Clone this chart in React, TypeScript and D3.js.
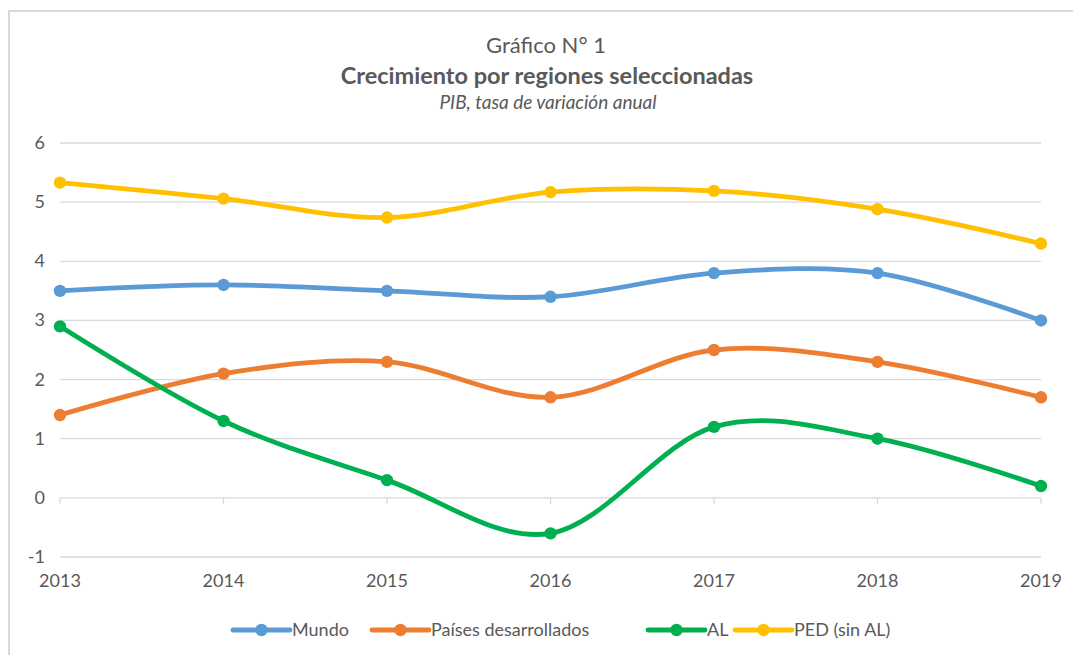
import React from "react";
import * as d3 from "d3";

const years = ["2013", "2014", "2015", "2016", "2017", "2018", "2019"];
const mundo = [3.5, 3.6, 3.5, 3.4, 3.8, 3.8, 3.0];
const paises = [1.4, 2.1, 2.3, 1.7, 2.5, 2.3, 1.7];
const al = [2.9, 1.3, 0.3, -0.6, 1.2, 1.0, 0.2];
const ped = [5.33, 5.06, 4.74, 5.17, 5.19, 4.88, 4.3];
const yTicks = [-1, 0, 1, 2, 3, 4, 5, 6];

const seriesNames = ["Mundo", "Países desarrollados", "AL", "PED (sin AL)"];
const seriesColors = ["#5B9BD5", "#ED7D31", "#00B050", "#FFC000"];
const seriesValues = [mundo, paises, al, ped];

const W = 1073;
const H = 655;
const FONT = "Lato, 'Open Sans', sans-serif";

export default function App() {
  const x = d3.scalePoint<string>().domain(years).range([60, 1041]);
  const y = d3.scaleLinear().domain([-1, 6]).range([557, 143]);
  const line = d3
    .line<number>()
    .x((_, i) => x(years[i]) as number)
    .y((d) => y(d))
    .curve(d3.curveCatmullRom.alpha(0));

  const legendX = [233, 372, 648, 735];
  const legendY = 630;

  return (
    <svg
      width={W}
      height={H}
      style={{ position: "absolute", left: 0, top: 0, background: "#fff" }}
      fontFamily={FONT}
    >
      <rect x={0} y={0} width={W} height={H} fill="#fff" />
      {/* partial border */}
      <line x1={9} x2={W} y1={11} y2={11} stroke="#d9d9d9" strokeWidth={2} />
      <line x1={9} x2={9} y1={10} y2={H} stroke="#d9d9d9" strokeWidth={2} />

      {/* titles */}
      <text x={546} y={53} textAnchor="middle" fontSize={22} fill="#595959">
        Gráfico N° 1
      </text>
      <text x={547} y={84} textAnchor="middle" fontSize={23.5} fontWeight="bold" fill="#595959">
        Crecimiento por regiones seleccionadas
      </text>
      <text x={548} y={109} textAnchor="middle" fontSize={19} fontStyle="italic" fill="#595959">
        PIB, tasa de variación anual
      </text>

      {/* gridlines */}
      {yTicks.map((t) => (
        <g key={t}>
          <line x1={60} x2={1041} y1={y(t)} y2={y(t)} stroke="#d9d9d9" strokeWidth={1.3} />
          <text x={45} y={y(t) + 6} textAnchor="end" fontSize={18} fill="#595959">
            {t}
          </text>
        </g>
      ))}
      {/* category ticks at zero axis */}
      {years.map((yr) => (
        <g key={yr}>
          <line
            x1={x(yr)}
            x2={x(yr)}
            y1={y(0)}
            y2={y(0) + 6}
            stroke="#d9d9d9"
            strokeWidth={1.3}
          />
          <text x={x(yr)} y={587} textAnchor="middle" fontSize={18} fill="#595959">
            {yr}
          </text>
        </g>
      ))}

      {/* series */}
      {seriesValues.map((vals, si) => (
        <g key={si}>
          <path
            d={line(vals) || ""}
            fill="none"
            stroke={seriesColors[si]}
            strokeWidth={4.8}
            strokeLinecap="round"
          />
          {vals.map((v, i) => (
            <circle key={i} cx={x(years[i])} cy={y(v)} r={6.2} fill={seriesColors[si]} />
          ))}
        </g>
      ))}

      {/* legend */}
      {seriesNames.map((n, i) => (
        <g key={n}>
          <line
            x1={legendX[i]}
            x2={legendX[i] + 57}
            y1={legendY}
            y2={legendY}
            stroke={seriesColors[i]}
            strokeWidth={4.8}
            strokeLinecap="round"
          />
          <circle cx={legendX[i] + 28.5} cy={legendY} r={6.2} fill={seriesColors[i]} />
          <text x={legendX[i] + 59} y={legendY + 6} fontSize={18} fill="#595959">
            {n}
          </text>
        </g>
      ))}
    </svg>
  );
}
